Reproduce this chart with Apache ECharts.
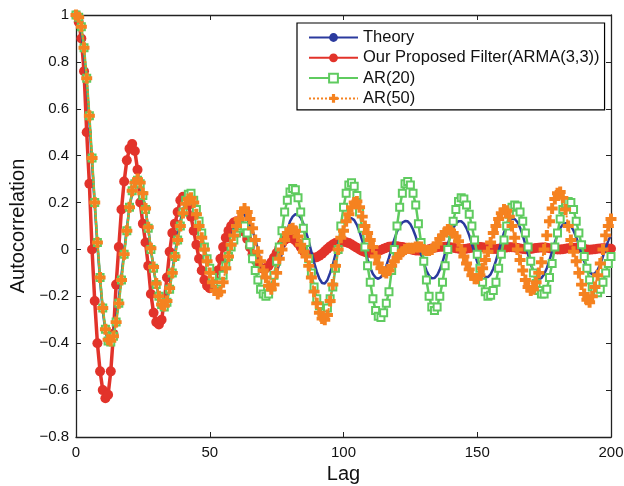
<!DOCTYPE html>
<html>
<head>
<meta charset="utf-8">
<script src="https://cdn.jsdelivr.net/npm/echarts@6/dist/echarts.min.js"></script>
<style>
  html, body { margin: 0; padding: 0; background: #fff; }
  #chart { width: 624px; height: 486px; }
</style>
</head>
<body>
<div id="chart"></div>
<script>
// values, one per lag 0..200
var theory = [
  1.0, 0.98, 0.93, 0.84, 0.71, 0.55, 0.37, 0.19, 0.02, -0.13,
  -0.26, -0.35, -0.39, -0.39, -0.36, -0.3, -0.21, -0.11, -0.01, 0.09,
  0.18, 0.24, 0.28, 0.29, 0.27, 0.23, 0.17, 0.09, 0.0, -0.08,
  -0.15, -0.2, -0.23, -0.235, -0.21, -0.16, -0.09, -0.02, 0.06, 0.12,
  0.17, 0.2, 0.215, 0.21, 0.19, 0.15, 0.1, 0.04, -0.02, -0.07,
  -0.12, -0.15, -0.165, -0.165, -0.14, -0.1, -0.05, 0.0, 0.05, 0.09,
  0.12, 0.14, 0.15, 0.148, 0.13, 0.105, 0.08, 0.045, 0.0, -0.05,
  -0.095, -0.13, -0.148, -0.148, -0.13, -0.1, -0.06, -0.015, 0.035, 0.08,
  0.12, 0.14, 0.15, 0.148, 0.135, 0.11, 0.075, 0.035, -0.01, -0.055,
  -0.095, -0.125, -0.143, -0.145, -0.13, -0.1, -0.065, -0.02, 0.025, 0.065,
  0.098, 0.12, 0.132, 0.133, 0.125, 0.105, 0.075, 0.038, -0.002, -0.042,
  -0.078, -0.105, -0.12, -0.125, -0.118, -0.1, -0.07, -0.035, 0.005, 0.043,
  0.076, 0.1, 0.115, 0.121, 0.12, 0.108, 0.085, 0.055, 0.018, -0.02,
  -0.058, -0.09, -0.112, -0.123, -0.122, -0.11, -0.086, -0.054, -0.016, 0.023,
  0.06, 0.09, 0.11, 0.12, 0.12, 0.11, 0.09, 0.06, 0.023, -0.016,
  -0.054, -0.086, -0.108, -0.118, -0.118, -0.106, -0.082, -0.048, -0.008, 0.033,
  0.072, 0.103, 0.123, 0.132, 0.13, 0.117, 0.093, 0.06, 0.02, -0.022,
  -0.062, -0.095, -0.117, -0.126, -0.122, -0.106, -0.08, -0.046, -0.008, 0.03,
  0.064, 0.09, 0.106, 0.112, 0.11, 0.1, 0.08, 0.052, 0.018, -0.018,
  -0.052, -0.08, -0.098, -0.105, -0.102, -0.088, -0.062, -0.03, 0.005, 0.038,
  0.06
];

var proposed = [
  1.0, 0.97, 0.9, 0.76, 0.5, 0.28, 0.0, -0.22, -0.4, -0.52,
  -0.6, -0.635, -0.62, -0.52, -0.36, -0.15, 0.01, 0.17, 0.29, 0.38,
  0.43, 0.45, 0.42, 0.34, 0.2, 0.11, 0.03, -0.07, -0.19, -0.27,
  -0.31, -0.32, -0.3, -0.22, -0.12, -0.01, 0.07, 0.11, 0.16, 0.21,
  0.225, 0.22, 0.19, 0.14, 0.08, 0.02, -0.04, -0.09, -0.13, -0.155,
  -0.165, -0.16, -0.13, -0.09, -0.04, 0.01, 0.05, 0.08, 0.1, 0.115,
  0.12, 0.115, 0.1, 0.075, 0.045, 0.01, -0.02, -0.045, -0.065, -0.078,
  -0.082, -0.08, -0.07, -0.055, -0.035, -0.015, 0.005, 0.025, 0.04, 0.048,
  0.05, 0.047, 0.038, 0.025, 0.01, -0.005, -0.018, -0.028, -0.033, -0.035,
  -0.033, -0.027, -0.018, -0.008, 0.003, 0.013, 0.021, 0.027, 0.031, 0.033,
  0.033, 0.031, 0.027, 0.021, 0.014, 0.007, 0.0, -0.006, -0.011, -0.014,
  -0.015, -0.014, -0.011, -0.007, -0.002, 0.003, 0.007, 0.011, 0.013, 0.014,
  0.014, 0.012, 0.01, 0.007, 0.004, 0.001, -0.002, -0.004, -0.005, -0.005,
  -0.004, -0.002, 0.001, 0.004, 0.007, 0.009, 0.011, 0.012, 0.012, 0.011,
  0.009, 0.007, 0.005, 0.003, 0.002, 0.002, 0.003, 0.005, 0.007, 0.009,
  0.01, 0.01, 0.009, 0.007, 0.005, 0.003, 0.002, 0.002, 0.003, 0.005,
  0.007, 0.008, 0.009, 0.009, 0.008, 0.006, 0.004, 0.002, 0.001, 0.001,
  0.002, 0.004, 0.006, 0.007, 0.008, 0.008, 0.007, 0.005, 0.003, 0.001,
  0.0, 0.0, 0.001, 0.003, 0.005, 0.006, 0.007, 0.007, 0.006, 0.004,
  0.002, 0.0, -0.001, 0.0, 0.001, 0.003, 0.004, 0.005, 0.005, 0.004,
  0.003
];

var ar20 = [
  1.0, 0.99, 0.95, 0.86, 0.73, 0.57, 0.39, 0.2, 0.03, -0.12,
  -0.25, -0.34, -0.39, -0.395, -0.37, -0.31, -0.23, -0.13, -0.02, 0.08,
  0.18, 0.25, 0.28, 0.295, 0.28, 0.23, 0.17, 0.09, 0.0, -0.08,
  -0.15, -0.2, -0.235, -0.245, -0.225, -0.17, -0.1, -0.03, 0.04, 0.1,
  0.16, 0.21, 0.235, 0.24, 0.21, 0.17, 0.12, 0.07, 0.01, -0.04,
  -0.08, -0.12, -0.145, -0.15, -0.14, -0.11, -0.07, -0.03, 0.01, 0.04,
  0.07, 0.09, 0.1, 0.1, 0.07, 0.02, -0.04, -0.09, -0.13, -0.17,
  -0.19, -0.2, -0.19, -0.16, -0.11, -0.05, 0.01, 0.08, 0.16, 0.21,
  0.245, 0.26, 0.255, 0.22, 0.16, 0.09, 0.03, -0.04, -0.1, -0.16,
  -0.21, -0.24, -0.265, -0.27, -0.25, -0.21, -0.16, -0.08, 0.0, 0.1,
  0.18, 0.24, 0.275, 0.285, 0.27, 0.23, 0.16, 0.09, 0.01, -0.07,
  -0.14, -0.21, -0.26, -0.285, -0.29, -0.27, -0.23, -0.18, -0.09, 0.0,
  0.1, 0.18, 0.24, 0.28, 0.29, 0.275, 0.24, 0.19, 0.11, 0.03,
  -0.05, -0.13, -0.2, -0.245, -0.26, -0.245, -0.2, -0.14, -0.07, 0.0,
  0.07, 0.12, 0.17, 0.205, 0.22, 0.215, 0.19, 0.15, 0.1, 0.04,
  -0.02, -0.08, -0.14, -0.18, -0.2, -0.195, -0.175, -0.14, -0.08, -0.02,
  0.04, 0.1, 0.15, 0.18, 0.19, 0.185, 0.16, 0.12, 0.07, 0.01,
  -0.05, -0.1, -0.145, -0.175, -0.19, -0.19, -0.17, -0.12, -0.06, 0.01,
  0.07, 0.13, 0.17, 0.195, 0.205, 0.2, 0.17, 0.12, 0.07, 0.02,
  -0.03, -0.08, -0.13, -0.16, -0.18, -0.185, -0.17, -0.14, -0.1, -0.06,
  -0.03
];

var ar50 = [
  1.0, 0.99, 0.95, 0.86, 0.73, 0.57, 0.39, 0.2, 0.03, -0.12,
  -0.25, -0.34, -0.385, -0.39, -0.37, -0.31, -0.23, -0.13, -0.02, 0.08,
  0.18, 0.25, 0.285, 0.3, 0.285, 0.24, 0.175, 0.095, 0.005, -0.075,
  -0.145, -0.2, -0.235, -0.24, -0.22, -0.165, -0.1, -0.03, 0.04, 0.1,
  0.155, 0.195, 0.215, 0.22, 0.2, 0.15, 0.1, 0.05, 0.0, -0.05,
  -0.1, -0.14, -0.175, -0.19, -0.18, -0.14, -0.08, -0.03, 0.02, 0.06,
  0.1, 0.13, 0.16, 0.175, 0.16, 0.13, 0.09, 0.04, -0.01, -0.05,
  -0.09, -0.12, -0.155, -0.17, -0.15, -0.1, -0.04, 0.0, 0.04, 0.07,
  0.085, 0.09, 0.08, 0.055, 0.02, -0.01, -0.03, -0.07, -0.12, -0.18,
  -0.23, -0.27, -0.295, -0.3, -0.28, -0.22, -0.15, -0.07, 0.0, 0.05,
  0.08, 0.12, 0.15, 0.18, 0.2, 0.205, 0.18, 0.14, 0.1, 0.07,
  0.04, 0.01, -0.03, -0.06, -0.08, -0.095, -0.1, -0.09, -0.07, -0.05,
  -0.035, -0.02, -0.01, 0.0, 0.005, 0.005, 0.005, 0.01, 0.01, 0.01,
  0.0, -0.005, -0.005, 0.0, 0.01, 0.025, 0.045, 0.06, 0.075, 0.085,
  0.08, 0.07, 0.055, 0.035, 0.0, -0.03, -0.06, -0.085, -0.11, -0.125,
  -0.125, -0.11, -0.08, -0.045, -0.01, 0.03, 0.07, 0.1, 0.13, 0.155,
  0.17, 0.165, 0.14, 0.1, 0.05, 0.0, -0.045, -0.09, -0.13, -0.16,
  -0.175, -0.17, -0.14, -0.1, -0.055, 0.0, 0.06, 0.12, 0.175, 0.215,
  0.24, 0.245, 0.22, 0.17, 0.1, 0.04, -0.01, -0.05, -0.1, -0.15,
  -0.19, -0.215, -0.225, -0.2, -0.16, -0.11, -0.06, 0.0, 0.06, 0.1,
  0.13
];

var seriesNames = ['Theory', 'Our Proposed Filter(ARMA(3,3))', 'AR(20)', 'AR(50)'];
var yTicks = [-0.8, 1];

function pairs(arr) {
  var out = [];
  for (var i = 0; i < arr.length; i++) out.push([i, arr[i]]);
  return out;
}

var plusPath = 'path://M3.2,0H6.8V3.2H10V6.8H6.8V10H3.2V6.8H0V3.2H3.2Z';
var font = '"Liberation Sans", Arial, Helvetica, sans-serif';

var chart = echarts.init(document.getElementById('chart'), null, { renderer: 'canvas' });

var option = {
  animation: false,
  backgroundColor: '#fff',
  textStyle: { fontFamily: font },
  grid: { left: 76, right: 13, top: 15, bottom: 49, outerBoundsMode: 'none', containLabel: false },
  legend: {
    orient: 'vertical',
    left: 297,
    top: 23,
    padding: [6, 5, 3, 11],
    itemGap: 3.3,
    itemWidth: 49,
    itemHeight: 11,
    borderColor: '#000',
    borderWidth: 1.2,
    backgroundColor: '#fff',
    textStyle: { fontFamily: font, fontSize: 16.5, color: '#111' },
    data: seriesNames
  },
  xAxis: [{
    type: 'value', min: 0, max: 200, interval: 50,
    name: 'Lag', nameLocation: 'middle', nameGap: 25,
    nameTextStyle: { fontFamily: font, fontSize: 20, color: '#111' },
    axisLine: { onZero: false, lineStyle: { color: '#222', width: 1.3 } },
    axisTick: { inside: true, length: 5, lineStyle: { color: '#222' } },
    axisLabel: { fontFamily: font, fontSize: 15, color: '#111', margin: 8 },
    splitLine: { show: false }
  }, {
    type: 'value', min: 0, max: 200, interval: 50, position: 'top',
    axisLine: { onZero: false, lineStyle: { color: '#222', width: 1.3 } },
    axisTick: { inside: true, length: 5, lineStyle: { color: '#222' } },
    axisLabel: { show: false },
    splitLine: { show: false }
  }],
  yAxis: [{
    type: 'value', min: yTicks[0], max: yTicks[1], interval: 0.2,
    name: 'Autocorrelation', nameLocation: 'middle', nameGap: 43,
    nameTextStyle: { fontFamily: font, fontSize: 20, color: '#111' },
    axisLine: { onZero: false, lineStyle: { color: '#222', width: 1.3 } },
    axisTick: { inside: true, length: 5, lineStyle: { color: '#222' } },
    axisLabel: {
      fontFamily: font, fontSize: 15, color: '#111', margin: 7,
      formatter: function (v) {
        var r = parseFloat(v.toFixed(1));
        return r < 0 ? '\u2212' + Math.abs(r) : String(r);
      }
    },
    splitLine: { show: false }
  }, {
    type: 'value', min: yTicks[0], max: yTicks[1], interval: 0.2, position: 'right',
    axisLine: { onZero: false, lineStyle: { color: '#222', width: 1.3 } },
    axisTick: { inside: true, length: 5, lineStyle: { color: '#222' } },
    axisLabel: { show: false },
    splitLine: { show: false }
  }],
  series: [{
    name: seriesNames[1], type: 'line', data: pairs(proposed),
    symbol: 'circle', symbolSize: 10, showSymbol: true, clip: false, z: 2,
    lineStyle: { color: '#e2332a', width: 3.5 },
    itemStyle: { color: '#e2332a' }
  }, {
    name: seriesNames[0], type: 'line', data: pairs(theory),
    symbol: 'none', clip: false, z: 3,
    lineStyle: { color: '#2b3a9e', width: 2.5 },
    itemStyle: { color: '#2b3a9e' }
  }, {
    name: seriesNames[2], type: 'line', data: pairs(ar20),
    symbol: 'emptyRect', symbolSize: 7, showSymbol: true, clip: false, z: 4,
    lineStyle: { color: '#5fcb5f', width: 2.5 },
    itemStyle: { color: '#5fcb5f', borderColor: '#5fcb5f', borderWidth: 3.5 }
  }, {
    name: seriesNames[3], type: 'line', data: pairs(ar50),
    symbol: plusPath, symbolSize: 11, showSymbol: true, clip: false, z: 5,
    lineStyle: { color: '#f58220', width: 2, type: 'dotted' },
    itemStyle: { color: '#f58220' }
  }]
};

chart.setOption(option);
</script>
</body>
</html>
